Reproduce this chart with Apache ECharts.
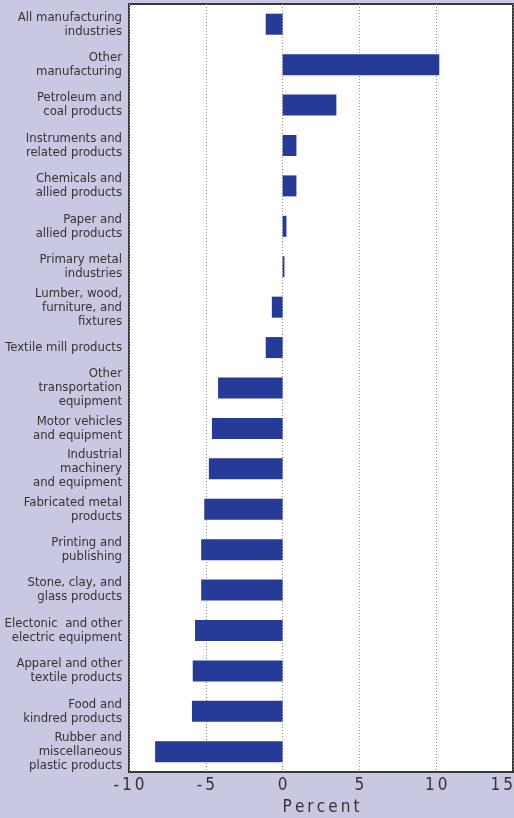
<!DOCTYPE html>
<html>
<head>
<meta charset="utf-8">
<script src="https://cdn.jsdelivr.net/npm/echarts@6/dist/echarts.min.js"></script>
<style>
  html, body { margin: 0; padding: 0; background: #c8c8e2; }
  #chart { width: 514px; height: 818px; }
</style>
</head>
<body>
<div id="chart"></div>
<script>
const industries = [
  'All manufacturing\nindustries',
  'Other\nmanufacturing',
  'Petroleum and\ncoal products',
  'Instruments and\nrelated products',
  'Chemicals and\nallied products',
  'Paper and\nallied products',
  'Primary metal\nindustries',
  'Lumber, wood,\nfurniture, and\nfixtures',
  'Textile mill products',
  'Other\ntransportation\nequipment',
  'Motor vehicles\nand equipment',
  'Industrial\nmachinery\nand equipment',
  'Fabricated metal\nproducts',
  'Printing and\npublishing',
  'Stone, clay, and\nglass products',
  'Electonic  and other\nelectric equipment',
  'Apparel and other\ntextile products',
  'Food and\nkindred products',
  'Rubber and\nmiscellaneous\nplastic products'
]
const percentChange = [
  -1.1, 10.2, 3.5, 0.9, 0.9, 0.25, 0.12, -0.7, -1.1,
  -4.2, -4.6, -4.8, -5.1, -5.3, -5.3, -5.7, -5.85, -5.9, -8.3
]
const xTicks = [-10, -5, 0, 5, 10, 15]

const FONT = 'DejaVu Sans Condensed, Liberation Sans Narrow, sans-serif'
const spaced = s => String(s).split('').join('\u2009')

const chart = echarts.init(document.getElementById('chart'))
chart.setOption({
  backgroundColor: '#c8c8e2',
  animation: false,
  grid: {
    left: 129,
    top: 4,
    right: 1,
    bottom: 46,
    outerBoundsMode: 'none',
    containLabel: false,
    show: true,
    backgroundColor: '#ffffff',
    borderColor: '#3a3a3a',
    borderWidth: 2
  },
  xAxis: {
    type: 'value',
    min: xTicks[0],
    max: xTicks[xTicks.length - 1],
    interval: 5,
    name: spaced('Percent'),
    nameLocation: 'middle',
    nameGap: 27,
    nameTextStyle: {
      fontFamily: FONT,
      fontSize: 17,
      color: '#333333'
    },
    axisLine: { show: true, lineStyle: { color: '#3a3a3a', width: 2 } },
    axisTick: { show: false },
    axisLabel: {
      margin: 5,
      fontFamily: FONT,
      fontSize: 17,
      color: '#333333',
      alignMaxLabel: 'right',
      formatter: v => spaced(v)
    },
    splitLine: {
      show: true,
      lineStyle: { color: '#9a9a9a', type: [1, 2], width: 1 }
    }
  },
  yAxis: {
    type: 'category',
    inverse: true,
    data: industries,
    axisLine: { show: false },
    axisTick: { show: false },
    axisLabel: {
      margin: 7,
      fontFamily: FONT,
      fontSize: 13,
      lineHeight: 14,
      color: '#333333',
      align: 'right'
    }
  },
  series: [{
    type: 'bar',
    data: percentChange,
    barWidth: 21,
    itemStyle: { color: '#263a97' }
  }]
})
</script>
</body>
</html>
